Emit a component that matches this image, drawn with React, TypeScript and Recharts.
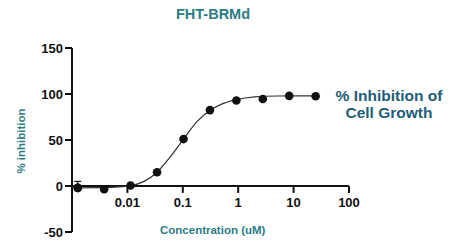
import React from 'react';
import {
  ComposedChart,
  XAxis,
  YAxis,
  Line,
  Scatter,
  ErrorBar,
  ReferenceLine,
} from 'recharts';

// 3-fold dilution series (uM) and measured % inhibition
const concentrations = [0.00127, 0.00381, 0.0114, 0.0343, 0.103, 0.309, 0.926, 2.78, 8.33, 25];
const inhibition = [-2, -3.5, 0.5, 15, 51, 82.5, 93, 94.5, 98, 97.5];
// only the lowest dose shows a visible (upper) error bar
const errLower = [0, 0, 0, 0, 0, 0, 0, 0, 0, 0];
const errUpper = [7, 0, 0, 0, 0, 0, 0, 0, 0, 0];

// fitted curve
const fitConc = [0.00127, 0.003, 0.006, 0.0114, 0.02, 0.0343, 0.06, 0.103, 0.18, 0.309, 0.5, 0.926, 2, 5, 25];
const fitValues = [-2, -1.8, -1.2, 0.3, 5, 15, 32, 51, 70, 82, 89, 93.8, 96.8, 97.8, 98];

const xTicks = [0.01, 0.1, 1, 10, 100];
const xTickLabels = ['0.01', '0.1', '1', '10', '100'];
const yTicks = [-50, 0, 50, 100, 150];

const TEAL = '#2b7c86';
const NAVY = '#215d78';
const INK = '#111111';
const FONT = '"Liberation Sans", Arial, sans-serif';

const points = concentrations.map((c, i) => ({
  conc: c,
  value: inhibition[i],
  err: [errLower[i], errUpper[i]],
}));
const withError = points.filter((p) => p.err[0] > 0 || p.err[1] > 0);
const fit = fitConc.map((c, i) => ({ conc: c, value: fitValues[i] }));

const Dot = (props: any) => <circle cx={props.cx} cy={props.cy} r={4.3} fill={INK} />;

export default function App() {
  return (
    <div style={{ position: 'absolute', left: 0, top: 0, width: 454, height: 246, background: '#fff', fontFamily: FONT }}>
      <div
        style={{
          position: 'absolute', left: 0, width: 454, top: 6, textAlign: 'center',
          color: TEAL, fontWeight: 700, fontSize: 14.5, marginLeft: -14,
        }}
      >
        FHT-BRMd
      </div>

      <ComposedChart width={454} height={246} margin={{ top: 48, right: 105, bottom: 14, left: 32 }}>
        <XAxis
          type="number"
          dataKey="conc"
          scale="log"
          domain={[0.001, 100]}
          allowDataOverflow
          hide
        />
        <YAxis
          type="number"
          domain={[-50, 150]}
          ticks={yTicks}
          width={40}
          axisLine={{ stroke: INK, strokeWidth: 2 }}
          tickLine={{ stroke: INK, strokeWidth: 2 }}
          tickSize={7}
          tickMargin={2}
          tick={{ fill: INK, fontSize: 13, fontWeight: 700, fontFamily: FONT }}
        />
        <ReferenceLine y={0} stroke={INK} strokeWidth={2} />
        {xTicks.map((t, i) => (
          <ReferenceLine
            key={t}
            segment={[{ x: t, y: 0 }, { x: t, y: -7.5 }]}
            stroke={INK}
            strokeWidth={2}
            label={{
              value: xTickLabels[i],
              position: 'bottom',
              offset: 5,
              fill: INK,
              fontSize: 13,
              fontWeight: 700,
              fontFamily: FONT,
            }}
          />
        ))}
        <Line
          data={fit}
          dataKey="value"
          type="monotone"
          stroke="#333"
          strokeWidth={1.2}
          dot={false}
          activeDot={false}
          isAnimationActive={false}
        />
        <Scatter data={withError} dataKey="value" shape={Dot} isAnimationActive={false}>
          <ErrorBar dataKey="err" direction="y" width={3.5} stroke={INK} strokeWidth={1.2} isAnimationActive={false} />
        </Scatter>
        <Scatter data={points} dataKey="value" shape={Dot} isAnimationActive={false} />
      </ComposedChart>

      <div style={{ position: 'absolute', left: 0, top: 141, width: 0, height: 0 }}>
        <div
          style={{
            position: 'absolute', left: 21, top: 0, transform: 'translate(-50%, -50%) rotate(-90deg)',
            whiteSpace: 'nowrap', color: TEAL, fontWeight: 700, fontSize: 11.5,
          }}
        >
          % inhibition
        </div>
      </div>

      <div
        style={{
          position: 'absolute', left: 160, width: 104, top: 224, textAlign: 'center', whiteSpace: 'nowrap',
          color: TEAL, fontWeight: 700, fontSize: 11.5,
        }}
      >
        Concentration (uM)
      </div>

      <div
        style={{
          position: 'absolute', left: 330, width: 118, top: 87, textAlign: 'center',
          color: NAVY, fontWeight: 700, fontSize: 15.5, lineHeight: '17px',
        }}
      >
        % Inhibition of
        <br />
        Cell Growth
      </div>
    </div>
  );
}
